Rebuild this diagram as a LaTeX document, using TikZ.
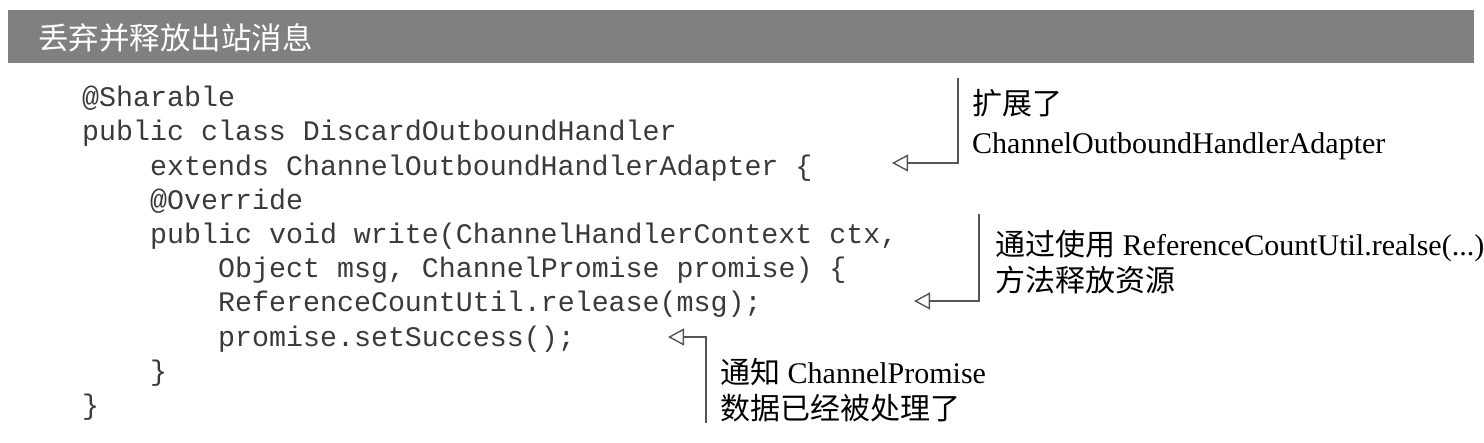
\documentclass[tikz,border=0pt]{standalone}
\usepackage{fontspec}
\setmainfont{Liberation Serif}
\setmonofont{Liberation Mono}
\newfontfamily\cjk{Noto Sans CJK SC}
\usetikzlibrary{arrows.meta}
\definecolor{barcol}{HTML}{808080}
\definecolor{codecol}{HTML}{3A3A3A}
\definecolor{linecol}{HTML}{555555}
\tikzset{
  codeline/.style={anchor=base west, inner sep=0pt, text=codecol, font=\ttfamily\fontsize{28.3}{34}\selectfont},
  note/.style={anchor=base west, inner sep=0pt, text=black, font=\fontsize{30}{36}\selectfont},
  callout/.style={draw=linecol, line width=1.4pt, -{Triangle[open, length=16pt, width=17pt, line width=1.4pt]}},
}
\begin{document}
\begin{tikzpicture}[x=1pt, y=-1pt]
\useasboundingbox (0,0) rectangle (1484,442);
% title bar
\fill[barcol] (8,10) rectangle (1474,63);
\node[anchor=base west, inner sep=0pt, text=white, font=\cjk\fontsize{30.5}{36}\selectfont] (title) at (38,49) {丢弃并释放出站消息};
% code
\node[codeline] (c1) at (82,106) {@Sharable};
\node[codeline] (c2) at (82,140) {public class DiscardOutboundHandler};
\node[codeline] (c3) at (150,175) {extends ChannelOutboundHandlerAdapter \{};
\node[codeline] (c4) at (150,209) {@Override};
\node[codeline] (c5) at (150,243) {public void write(ChannelHandlerContext ctx,};
\node[codeline] (c6) at (218,277) {Object msg, ChannelPromise promise) \{};
\node[codeline] (c7) at (218,311) {ReferenceCountUtil.release(msg);};
\node[codeline] (c8) at (218,346) {promise.setSuccess();};
\node[codeline] (c9) at (150,380) {\}};
\node[codeline] (c10) at (82,414) {\}};
% annotations
\node[note] (n1a) at (972,114) {{\cjk 扩展了}};
\node[note] (n1b) at (972,153) {ChannelOutboundHandlerAdapter};
\node[note] (n2a) at (995,255) {{\cjk 通过使用} ReferenceCountUtil.realse(...)};
\node[note] (n2b) at (995,291) {{\cjk 方法释放资源}};
\node[note] (n3a) at (720,383) {{\cjk 通知} ChannelPromise};
\node[note] (n3b) at (720,419) {{\cjk 数据已经被处理了}};
% connector ends
\coordinate (s1) at (958,78);
\coordinate (t1) at (892,163);
\coordinate (s2) at (979,214);
\coordinate (t2) at (914,301);
\coordinate (s3) at (706,423);
\coordinate (t3) at (668,337);
\draw[callout] (s1) |- (t1);
\draw[callout] (s2) |- (t2);
\draw[callout] (s3) |- (t3);
\end{tikzpicture}
\end{document}
